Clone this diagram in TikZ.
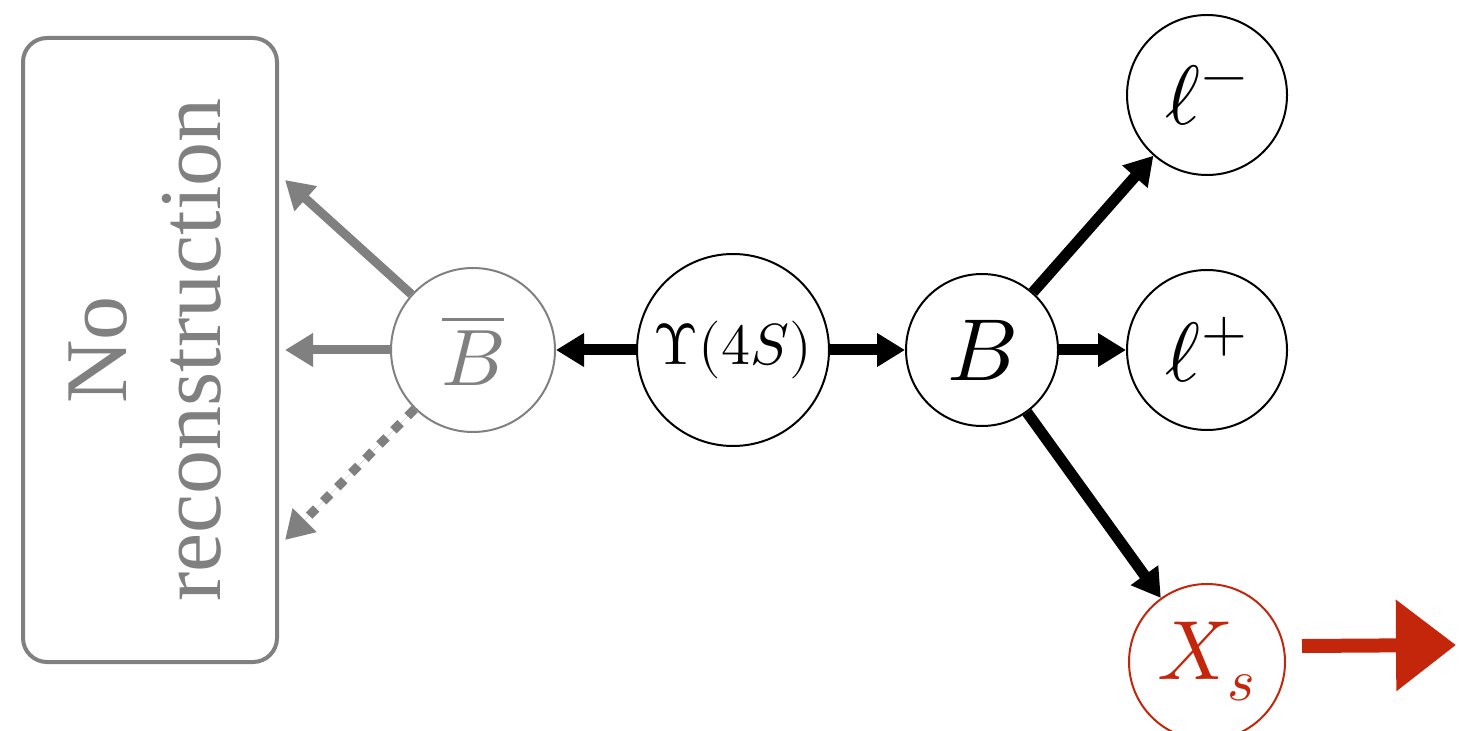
\documentclass[tikz,border=0pt]{standalone}
\usepackage{amsmath}
\usepackage{unicode-math}
\setmainfont{Liberation Serif}
\setmathfont{Latin Modern Math}
\usepackage{tikz}
\usetikzlibrary{arrows.meta,positioning}
\definecolor{dgray}{HTML}{808080}
\definecolor{xred}{HTML}{C4260C}
\tikzset{
  part/.style={draw,circle,line width=1pt,inner sep=0pt},
  gpart/.style={part,draw=dgray,text=dgray},
  rpart/.style={part,draw=xred,text=xred},
  arr/.style={-{Triangle[length=14pt,width=16pt]},line width=5.5pt},
  garr/.style={arr,draw=dgray,fill=dgray,line width=4.5pt},
  rarr/.style={-{Triangle[length=30pt,width=44pt]},draw=xred,fill=xred,line width=7pt},
}

\begin{document}
\begin{tikzpicture}[x=0.5pt,y=-0.5pt]
\useasboundingbox (0,0) rectangle (1459,731);
% rejected side
\node[draw=dgray,line width=2pt,rounded corners=12pt,minimum width=127pt,minimum height=312pt] (box) at (150,350) {};
\node[rotate=90,text=dgray,align=center,font=\fontsize{44}{47}\selectfont] (norec) at (145,350) {No\\reconstruction};
\node[gpart,minimum size=82pt,font=\fontsize{40}{44}\selectfont] (bb) at (473,350) {$\overline{B}$};
% signal side
\node[part,minimum size=96pt,font=\fontsize{29}{32}\selectfont] (ups) at (733,350) {$\Upsilon(4S)$};
\node[part,minimum size=76pt,font=\fontsize{44}{48}\selectfont] (b) at (982,350) {$B$};
\node[part,minimum size=80pt,font=\fontsize{42}{44}\selectfont] (lm) at (1207,95) {$\ell^-$};
\node[part,minimum size=80pt,font=\fontsize{42}{44}\selectfont] (lp) at (1207,350) {$\ell^+$};
\node[rpart,minimum size=78pt,font=\fontsize{42}{46}\selectfont] (xs) at (1207,662) {$X_s$};
\coordinate (out) at (1456,645);
\draw[arr](ups.west)--(bb.east); \draw[arr](ups.east)--(b.west);
\draw[arr](b)--(lm); \draw[arr](b.east)--(lp.west); \draw[arr](b)--(xs);
\draw[garr](bb)--([xshift=3pt,yshift=85pt]box.east);
\draw[garr](bb.west)--([xshift=3pt]box.east);
\draw[garr,dash pattern=on 5pt off 5pt](bb)--([xshift=3pt,yshift=-95pt]box.east);
\draw[rarr]([xshift=8pt,yshift=8pt]xs.east)--(out);
\end{tikzpicture}
\end{document}
